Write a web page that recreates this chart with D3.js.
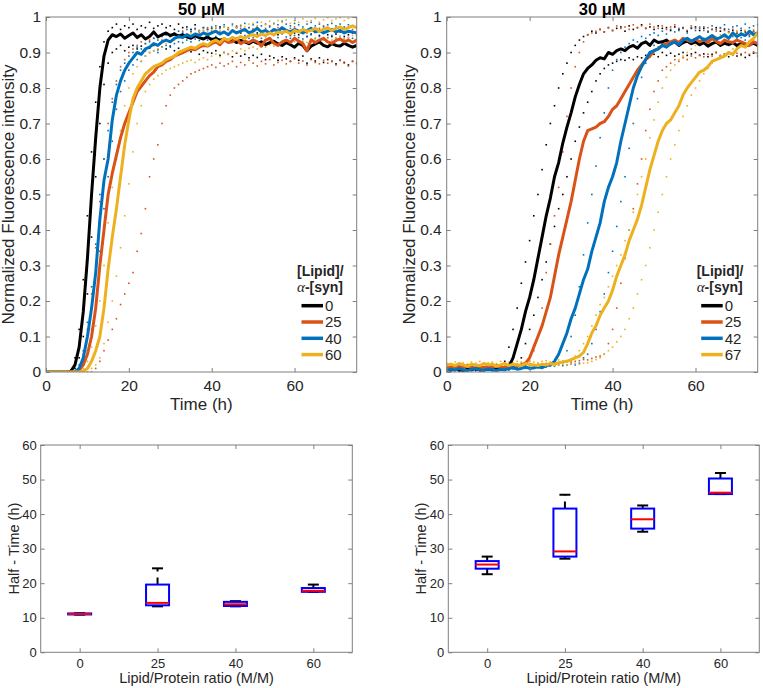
<!DOCTYPE html>
<html><head><meta charset="utf-8">
<script src="https://cdn.jsdelivr.net/npm/d3@7"></script>
<style>body{margin:0;background:#fff}</style>
</head><body>
<svg id="c" width="763" height="688" xmlns="http://www.w3.org/2000/svg"></svg>
<script>
// ---------- DATA ----------
const hours = [0,1,2,3,4,5,6,7,8,9,10,11,12,13,14,15,16,17,18,19,20,21,22,23,24,25,26,27,28,29,30,31,32,33,34,35,36,37,38,39,40,41,42,43,44,45,46,47,48,49,50,51,52,53,54,55,56,57,58,59,60,61,62,63,64,65,66,67,68,69,70,71,72,73,74,75];
const xTicksTime = [0,20,40,60];
const yTicksFluor = [0,0.1,0.2,0.3,0.4,0.5,0.6,0.7,0.8,0.9,1];
const labels50 = ["0","25","40","60"];
const labels30 = ["0","25","42","67"];

// 50 uM mean curves
const m50_0 = [0,0,0,0,0,0,0.002,0.02,0.07,0.17,
 0.32,0.5,0.66,0.8,0.89,0.935,0.95,0.945,0.952,0.94,
 0.948,0.955,0.942,0.95,0.938,0.945,0.958,0.944,0.95,0.955,
 0.948,0.952,0.946,0.95,0.944,0.94,0.947,0.942,0.938,0.944,
 0.936,0.94,0.934,0.938,0.93,0.936,0.928,0.934,0.93,0.925,
 0.932,0.926,0.93,0.922,0.928,0.932,0.924,0.92,0.928,0.922,
 0.915,0.926,0.92,0.905,0.918,0.924,0.93,0.92,0.916,0.925,
 0.92,0.918,0.926,0.92,0.915,0.92];
const m50_25 = [0,0,0,0,0,0,0,0,0.005,0.02,
 0.05,0.1,0.18,0.3,0.4,0.5,0.56,0.61,0.66,0.7,
 0.73,0.76,0.79,0.805,0.82,0.835,0.845,0.86,0.865,0.875,
 0.88,0.89,0.895,0.9,0.905,0.91,0.908,0.915,0.92,0.918,
 0.925,0.93,0.922,0.935,0.928,0.93,0.94,0.925,0.932,0.928,
 0.935,0.93,0.918,0.935,0.94,0.926,0.92,0.93,0.935,0.928,
 0.94,0.932,0.925,0.905,0.936,0.928,0.935,0.94,0.93,0.926,
 0.934,0.938,0.93,0.935,0.928,0.935];
const m50_40 = [0,0,0,0,0,0,0,0,0.01,0.04,
 0.1,0.18,0.28,0.43,0.54,0.6,0.71,0.78,0.82,0.85,
 0.87,0.885,0.9,0.895,0.91,0.915,0.925,0.92,0.93,0.935,
 0.93,0.94,0.945,0.942,0.95,0.945,0.952,0.948,0.955,0.95,
 0.955,0.96,0.952,0.958,0.95,0.962,0.955,0.96,0.965,0.955,
 0.96,0.968,0.958,0.962,0.955,0.965,0.96,0.97,0.962,0.958,
 0.965,0.96,0.955,0.962,0.968,0.958,0.962,0.955,0.96,0.965,
 0.958,0.962,0.955,0.96,0.958,0.955];
const m50_60 = [0,0,0,0,0,0,0,0,0,0.003,
 0.01,0.03,0.06,0.1,0.18,0.29,0.38,0.46,0.55,0.64,
 0.71,0.77,0.8,0.82,0.84,0.85,0.86,0.865,0.87,0.88,
 0.885,0.89,0.9,0.905,0.91,0.915,0.912,0.92,0.925,0.92,
 0.93,0.935,0.928,0.94,0.935,0.942,0.938,0.945,0.94,0.948,
 0.95,0.945,0.952,0.948,0.955,0.95,0.958,0.955,0.96,0.952,
 0.962,0.958,0.965,0.96,0.962,0.968,0.96,0.965,0.97,0.962,
 0.968,0.972,0.965,0.97,0.975,0.97];

// 50 uM replicate readings (dots)
const r50_0a = [0,0,0,0,0,0,0.005,0.04,0.12,0.26,
 0.44,0.62,0.76,0.86,0.93,0.96,0.97,0.98,0.965,0.975,
 0.97,0.98,0.965,0.975,0.97,0.985,0.968,0.975,0.98,0.97,
 0.975,0.965,0.98,0.97,0.972,0.965,0.978,0.96,0.97,0.965,
 0.968,0.96,0.972,0.958,0.965,0.96,0.97,0.955,0.962,0.958,
 0.965,0.955,0.96,0.95,0.958,0.962,0.95,0.955,0.96,0.948,
 0.955,0.95,0.958,0.945,0.952,0.96,0.948,0.955,0.95,0.945,
 0.952,0.958,0.945,0.95,0.955,0.948];
const r50_0b = [0,0,0,0,0,0,0,0.01,0.04,0.1,
 0.22,0.38,0.55,0.7,0.81,0.87,0.9,0.91,0.92,0.905,
 0.915,0.92,0.91,0.918,0.905,0.912,0.92,0.908,0.915,0.91,
 0.918,0.905,0.912,0.9,0.91,0.902,0.908,0.895,0.905,0.9,
 0.898,0.905,0.892,0.9,0.895,0.888,0.898,0.89,0.895,0.885,
 0.892,0.886,0.895,0.88,0.89,0.885,0.878,0.888,0.882,0.875,
 0.885,0.878,0.89,0.87,0.882,0.876,0.885,0.872,0.88,0.875,
 0.868,0.878,0.872,0.865,0.875,0.87];
const r50_25a = [0,0,0,0,0,0,0,0,0.01,0.05,
 0.12,0.22,0.35,0.48,0.6,0.7,0.77,0.82,0.86,0.88,
 0.9,0.91,0.92,0.93,0.925,0.935,0.94,0.945,0.935,0.95,
 0.945,0.955,0.95,0.96,0.952,0.958,0.965,0.955,0.962,0.97,
 0.96,0.968,0.958,0.972,0.965,0.96,0.975,0.968,0.962,0.97,
 0.965,0.972,0.96,0.968,0.975,0.962,0.97,0.965,0.958,0.968,
 0.972,0.96,0.966,0.955,0.97,0.962,0.968,0.975,0.96,0.965,
 0.97,0.962,0.968,0.958,0.965,0.97];
const r50_25b = [0,0,0,0,0,0,0,0,0,0,
 0,0,0.01,0.03,0.06,0.09,0.12,0.15,0.19,0.22,
 0.25,0.28,0.34,0.39,0.46,0.55,0.6,0.64,0.7,0.75,
 0.78,0.8,0.81,0.82,0.83,0.84,0.845,0.85,0.855,0.86,
 0.865,0.858,0.87,0.862,0.868,0.875,0.86,0.872,0.865,0.878,
 0.87,0.862,0.875,0.868,0.88,0.865,0.872,0.878,0.868,0.875,
 0.882,0.87,0.876,0.865,0.88,0.872,0.868,0.878,0.87,0.875,
 0.865,0.878,0.87,0.862,0.875,0.868];
const r50_40a = [0,0,0,0,0,0,0,0,0.02,0.06,
 0.14,0.24,0.36,0.5,0.6,0.68,0.76,0.81,0.85,0.87,
 0.89,0.9,0.915,0.91,0.925,0.93,0.94,0.935,0.945,0.95,
 0.945,0.955,0.96,0.955,0.965,0.96,0.968,0.962,0.97,0.965,
 0.972,0.975,0.968,0.978,0.97,0.98,0.972,0.975,0.982,0.97,
 0.978,0.985,0.975,0.98,0.972,0.982,0.978,0.988,0.98,0.975,
 0.982,0.978,0.972,0.98,0.985,0.975,0.98,0.972,0.978,0.982,
 0.975,0.98,0.972,0.978,0.975,0.97];
const r50_40b = [0,0,0,0,0,0,0,0,0,0.02,
 0.06,0.12,0.2,0.34,0.46,0.55,0.65,0.74,0.79,0.82,
 0.85,0.865,0.88,0.875,0.89,0.9,0.905,0.9,0.915,0.92,
 0.915,0.925,0.93,0.928,0.935,0.93,0.938,0.934,0.94,0.935,
 0.94,0.945,0.936,0.94,0.932,0.944,0.938,0.945,0.948,0.94,
 0.942,0.95,0.94,0.945,0.938,0.948,0.942,0.952,0.944,0.94,
 0.948,0.942,0.938,0.945,0.95,0.94,0.945,0.938,0.942,0.948,
 0.94,0.945,0.938,0.942,0.94,0.938];
const r50_60a = [0,0,0,0,0,0,0,0,0,0.01,
 0.03,0.07,0.13,0.2,0.3,0.42,0.52,0.6,0.68,0.75,
 0.8,0.84,0.86,0.875,0.89,0.9,0.905,0.91,0.915,0.925,
 0.93,0.935,0.94,0.945,0.95,0.955,0.95,0.96,0.962,0.958,
 0.965,0.97,0.962,0.972,0.968,0.975,0.97,0.978,0.972,0.98,
 0.982,0.975,0.985,0.978,0.988,0.98,0.99,0.985,0.992,0.982,
 0.99,0.985,0.995,0.988,0.99,0.996,0.985,0.992,0.998,0.99,
 0.995,0.998,0.99,0.996,1.0,0.995];
const r50_60b = [0,0,0,0,0,0,0,0,0,0,
 0,0.01,0.02,0.04,0.08,0.14,0.2,0.27,0.35,0.44,
 0.53,0.62,0.7,0.75,0.79,0.81,0.825,0.835,0.84,0.85,
 0.855,0.86,0.865,0.87,0.875,0.878,0.872,0.88,0.885,0.88,
 0.89,0.895,0.888,0.9,0.895,0.905,0.9,0.91,0.905,0.912,
 0.915,0.91,0.918,0.915,0.922,0.918,0.925,0.92,0.928,0.922,
 0.93,0.925,0.932,0.928,0.935,0.938,0.93,0.935,0.94,0.935,
 0.94,0.945,0.938,0.942,0.948,0.945];

// 30 uM mean curves
const m30_0 = [0.008,0.005,0.01,0.006,0.004,0.008,0.006,0.01,0.005,0.007,
 0.009,0.006,0.008,0.01,0.012,0.015,0.04,0.08,0.12,0.17,
 0.21,0.26,0.32,0.38,0.44,0.49,0.55,0.59,0.645,0.69,
 0.73,0.775,0.81,0.84,0.855,0.865,0.878,0.885,0.882,0.9,
 0.895,0.905,0.91,0.905,0.915,0.92,0.912,0.925,0.93,0.92,
 0.935,0.928,0.93,0.935,0.925,0.93,0.92,0.928,0.932,0.925,
 0.93,0.922,0.928,0.918,0.925,0.93,0.92,0.926,0.922,0.928,
 0.92,0.925,0.918,0.922,0.926,0.92];
const m30_25 = [0.012,0.015,0.01,0.016,0.012,0.018,0.014,0.01,0.015,0.012,
 0.016,0.013,0.018,0.014,0.012,0.016,0.015,0.018,0.02,0.025,
 0.04,0.07,0.1,0.13,0.17,0.21,0.27,0.33,0.38,0.43,
 0.48,0.54,0.6,0.65,0.68,0.685,0.69,0.7,0.705,0.72,
 0.74,0.75,0.77,0.79,0.81,0.83,0.85,0.865,0.88,0.89,
 0.905,0.91,0.92,0.925,0.93,0.935,0.928,0.94,0.935,0.93,
 0.938,0.93,0.935,0.928,0.94,0.932,0.925,0.935,0.93,0.928,
 0.935,0.93,0.925,0.92,0.93,0.925];
const m30_42 = [0.004,0.008,0.005,0.01,0.006,0.004,0.008,0.01,0.006,0.005,
 0.009,0.007,0.004,0.008,0.006,0.01,0.012,0.008,0.01,0.014,
 0.01,0.012,0.015,0.012,0.018,0.02,0.03,0.05,0.08,0.11,
 0.15,0.18,0.22,0.26,0.29,0.34,0.38,0.42,0.48,0.52,
 0.55,0.59,0.65,0.7,0.75,0.8,0.835,0.86,0.88,0.9,
 0.905,0.91,0.92,0.915,0.925,0.93,0.922,0.935,0.94,0.932,
 0.938,0.945,0.935,0.94,0.948,0.938,0.942,0.95,0.94,0.955,
 0.945,0.952,0.948,0.96,0.95,0.955];
const m30_67 = [0.02,0.022,0.018,0.024,0.02,0.016,0.022,0.02,0.018,0.024,
 0.02,0.022,0.016,0.02,0.024,0.018,0.022,0.02,0.018,0.024,
 0.022,0.02,0.018,0.022,0.02,0.024,0.022,0.026,0.028,0.03,
 0.035,0.04,0.045,0.055,0.08,0.11,0.13,0.16,0.18,0.2,
 0.23,0.27,0.3,0.33,0.37,0.4,0.43,0.47,0.52,0.57,
 0.61,0.65,0.68,0.7,0.71,0.73,0.75,0.78,0.8,0.815,
 0.83,0.845,0.85,0.86,0.875,0.88,0.885,0.89,0.9,0.895,
 0.91,0.92,0.915,0.93,0.94,0.955];

// 30 uM replicate readings (dots)
const r30_0a = [0.01,0.006,0.012,0.008,0.005,0.01,0.008,0.012,0.006,0.01,
 0.008,0.012,0.01,0.015,0.03,0.07,0.12,0.18,0.25,0.31,
 0.37,0.44,0.5,0.57,0.64,0.7,0.75,0.8,0.84,0.87,
 0.9,0.92,0.935,0.945,0.95,0.96,0.955,0.965,0.958,0.97,
 0.962,0.968,0.972,0.96,0.975,0.965,0.97,0.978,0.968,0.972,
 0.965,0.975,0.968,0.97,0.962,0.972,0.965,0.97,0.96,0.968,
 0.972,0.962,0.968,0.958,0.965,0.97,0.96,0.966,0.958,0.962,
 0.955,0.962,0.958,0.95,0.96,0.955];
const r30_0b = [0.004,0.008,0.006,0.002,0.006,0.005,0.008,0.004,0.006,0.003,
 0.006,0.004,0.007,0.005,0.008,0.01,0.012,0.02,0.04,0.08,
 0.12,0.16,0.21,0.26,0.31,0.36,0.41,0.46,0.5,0.55,
 0.6,0.65,0.69,0.73,0.76,0.79,0.82,0.84,0.855,0.865,
 0.87,0.875,0.88,0.878,0.885,0.88,0.888,0.885,0.892,0.888,
 0.895,0.888,0.9,0.892,0.898,0.89,0.895,0.9,0.892,0.896,
 0.9,0.892,0.896,0.888,0.895,0.9,0.89,0.895,0.888,0.894,
 0.89,0.895,0.886,0.892,0.898,0.89];
const r30_25a = [0.015,0.012,0.018,0.014,0.01,0.016,0.012,0.018,0.015,0.012,
 0.014,0.018,0.012,0.016,0.015,0.018,0.02,0.022,0.025,0.028,
 0.03,0.06,0.1,0.18,0.28,0.36,0.44,0.52,0.62,0.72,
 0.8,0.86,0.9,0.93,0.95,0.955,0.96,0.965,0.958,0.97,
 0.962,0.975,0.968,0.972,0.965,0.978,0.97,0.975,0.968,0.98,
 0.972,0.968,0.975,0.965,0.972,0.978,0.968,0.97,0.962,0.975,
 0.968,0.972,0.962,0.97,0.965,0.96,0.968,0.962,0.958,0.965,
 0.96,0.955,0.962,0.95,0.958,0.952];
const r30_25b = [0.012,0.016,0.014,0.018,0.015,0.012,0.016,0.014,0.018,0.015,
 0.012,0.016,0.018,0.014,0.016,0.015,0.018,0.016,0.02,0.018,
 0.02,0.018,0.022,0.02,0.024,0.022,0.025,0.024,0.026,0.028,
 0.028,0.03,0.032,0.035,0.034,0.038,0.042,0.045,0.05,0.08,
 0.12,0.18,0.25,0.32,0.4,0.46,0.53,0.6,0.68,0.74,
 0.79,0.82,0.85,0.86,0.87,0.88,0.875,0.885,0.88,0.89,
 0.885,0.892,0.888,0.895,0.89,0.9,0.892,0.896,0.9,0.894,
 0.898,0.892,0.9,0.895,0.902,0.896];
const r30_42a = [0.006,0.004,0.008,0.005,0.01,0.006,0.004,0.008,0.006,0.01,
 0.005,0.008,0.006,0.01,0.007,0.005,0.009,0.012,0.008,0.01,
 0.012,0.01,0.014,0.016,0.015,0.018,0.02,0.025,0.03,0.06,
 0.1,0.16,0.24,0.33,0.42,0.5,0.58,0.66,0.73,0.8,
 0.85,0.88,0.9,0.915,0.925,0.935,0.93,0.945,0.94,0.95,
 0.955,0.948,0.96,0.952,0.965,0.958,0.962,0.968,0.955,0.97,
 0.962,0.968,0.972,0.96,0.975,0.965,0.97,0.978,0.965,0.972,
 0.975,0.968,0.98,0.97,0.975,0.978];
const r30_42b = [0.008,0.01,0.006,0.012,0.008,0.01,0.006,0.012,0.009,0.007,
 0.01,0.008,0.012,0.006,0.01,0.008,0.012,0.01,0.014,0.012,
 0.01,0.015,0.012,0.016,0.014,0.018,0.016,0.02,0.018,0.02,
 0.022,0.02,0.025,0.04,0.05,0.08,0.12,0.17,0.22,0.28,
 0.34,0.41,0.48,0.55,0.63,0.7,0.77,0.83,0.87,0.9,
 0.92,0.915,0.925,0.93,0.922,0.935,0.928,0.93,0.938,0.932,
 0.935,0.928,0.94,0.932,0.938,0.93,0.942,0.935,0.94,0.945,
 0.938,0.942,0.935,0.945,0.94,0.948];
const r30_67a = [0.025,0.022,0.028,0.024,0.026,0.022,0.028,0.025,0.03,0.024,
 0.026,0.028,0.024,0.03,0.026,0.028,0.025,0.03,0.028,0.026,
 0.03,0.028,0.026,0.03,0.032,0.028,0.03,0.034,0.03,0.032,
 0.035,0.045,0.06,0.08,0.1,0.13,0.16,0.19,0.21,0.24,
 0.27,0.3,0.33,0.37,0.4,0.45,0.5,0.55,0.6,0.66,
 0.71,0.76,0.8,0.83,0.85,0.865,0.88,0.89,0.9,0.91,
 0.92,0.925,0.932,0.94,0.935,0.945,0.95,0.942,0.955,0.948,
 0.958,0.952,0.962,0.955,0.965,0.96];
const r30_67b = [0.015,0.018,0.014,0.016,0.018,0.015,0.014,0.018,0.016,0.015,
 0.018,0.015,0.016,0.014,0.018,0.016,0.015,0.018,0.016,0.014,
 0.016,0.018,0.015,0.018,0.016,0.02,0.018,0.02,0.022,0.02,
 0.022,0.024,0.022,0.025,0.026,0.03,0.035,0.04,0.05,0.06,
 0.07,0.085,0.1,0.12,0.15,0.18,0.22,0.26,0.3,0.35,
 0.4,0.45,0.5,0.55,0.6,0.64,0.68,0.72,0.75,0.78,
 0.8,0.82,0.84,0.855,0.87,0.88,0.89,0.895,0.9,0.91,
 0.915,0.92,0.925,0.932,0.938,0.945];

// Half-time box plots (h)
const boxCats = ["0","25","40","60"];
const yTicksHalf = [0,10,20,30,40,50,60];
const lo50  = [10.9, 13.3, 13.3, 17.5];
const q1_50 = [10.95,13.6, 13.4, 17.5];
const med50 = [11.1, 14.3, 13.9, 17.8];
const q3_50 = [11.25,19.6, 14.6, 18.6];
const hi50  = [11.3, 24.3, 14.8, 19.6];
const lo30  = [22.6, 27.1, 34.9, 45.8];
const q1_30 = [24.2, 27.7, 35.8, 45.8];
const med30 = [25.4, 29.2, 38.5, 46.2];
const q3_30 = [26.4, 41.6, 41.6, 50.3];
const hi30  = [27.7, 45.6, 42.5, 51.9];

// ---------- STYLE ----------
const colors = ["#000000","#D95319","#0072BD","#EDB120"];
const FONT = "'Liberation Sans', Arial, Helvetica, sans-serif";
const TXT = "#262626", AXC = "#7f7f7f";
const svg = d3.select("#c");

function styleAxis(sel, fs) {
  sel.attr("font-family", FONT).attr("font-size", fs);
  sel.select(".domain").remove();
  sel.selectAll(".tick line").attr("stroke", AXC);
  sel.selectAll(".tick text").attr("fill", TXT);
}

function frame(x, y, xTicks, yTicks, fs, xPad, yPad) {
  const xl = x.range();
  const [ya, yb] = y.range(); // ya bottom, yb top
  svg.append("g").attr("transform", `translate(0,${ya})`)
    .call(d3.axisBottom(x).tickValues(xTicks).tickSizeInner(-4).tickSizeOuter(0).tickPadding(xPad))
    .call(s => styleAxis(s, fs));
  svg.append("g").attr("transform", `translate(0,${yb})`)
    .call(d3.axisTop(x).tickValues(xTicks).tickSizeInner(-4).tickSizeOuter(0).tickFormat(""))
    .call(s => styleAxis(s, fs));
  svg.append("g").attr("transform", `translate(${xl[0]},0)`)
    .call(d3.axisLeft(y).tickValues(yTicks).tickSizeInner(-4).tickSizeOuter(0).tickPadding(yPad).tickFormat(d => String(d)))
    .call(s => styleAxis(s, fs));
  svg.append("g").attr("transform", `translate(${xl[1]},0)`)
    .call(d3.axisRight(y).tickValues(yTicks).tickSizeInner(-4).tickSizeOuter(0).tickFormat(""))
    .call(s => styleAxis(s, fs));
  svg.append("rect").attr("x", xl[0]).attr("y", yb).attr("width", xl[1]-xl[0]).attr("height", ya-yb)
    .attr("fill", "none").attr("stroke", AXC).attr("stroke-width", 1);
}

function kinetic(cfg) {
  const x = d3.scaleLinear().domain([0, 75]).range([cfg.left, cfg.right]);
  const y = d3.scaleLinear().domain([0, 1]).range([372, 17]);
  const clipId = "clip" + cfg.id;
  svg.append("clipPath").attr("id", clipId).append("rect")
    .attr("x", cfg.left).attr("y", 17).attr("width", cfg.right - cfg.left).attr("height", 355);
  const plot = svg.append("g").attr("clip-path", `url(#${clipId})`);
  cfg.reps.forEach((pair, si) => pair.forEach(rep => {
    plot.append("g").selectAll("rect").data(rep).join("rect")
      .attr("x", (d, i) => x(hours[i]) - 0.8).attr("y", d => y(d) - 0.8)
      .attr("width", 1.6).attr("height", 1.6).attr("fill", colors[si]);
  }));
  const line = d3.line().x((d, i) => x(hours[i])).y(d => y(d));
  cfg.means.forEach((m, si) => {
    plot.append("path").attr("d", line(m)).attr("fill", "none")
      .attr("stroke", colors[si]).attr("stroke-width", 3).attr("stroke-linejoin", "round");
  });
  frame(x, y, xTicksTime, yTicksFluor, 15.5, 7.5, 5);
  const cx = (cfg.left + cfg.right) / 2;
  svg.append("text").attr("x", cx).attr("y", 14.5).attr("text-anchor", "middle")
    .attr("font-family", FONT).attr("font-size", 16.5).attr("font-weight", "bold").attr("fill", "#000")
    .text(cfg.title);
  svg.append("text").attr("x", cx).attr("y", 410).attr("text-anchor", "middle")
    .attr("font-family", FONT).attr("font-size", 17).attr("fill", TXT).text("Time (h)");
  svg.append("text").attr("transform", `translate(${cfg.ylabX},194.5) rotate(-90)`).attr("text-anchor", "middle")
    .attr("font-family", FONT).attr("font-size", 17).attr("fill", TXT).text("Normalized Fluorescence intensity");
  // legend
  const lx = cfg.legendX;
  const lg = svg.append("g").attr("font-family", FONT).attr("fill", TXT);
  lg.append("text").attr("x", lx).attr("y", 276).attr("font-size", 14).attr("font-weight", "bold").text("[Lipid]/");
  const t2 = lg.append("text").attr("x", lx).attr("y", 292).attr("font-size", 14);
  t2.append("tspan").attr("font-family", "'Liberation Serif','DejaVu Serif',serif").attr("font-style", "italic").attr("font-size", 15).text("α");
  t2.append("tspan").attr("font-weight", "bold").text("-[syn]");
  cfg.labels.forEach((lab, i) => {
    const yy = 305.7 + i * 16.3;
    lg.append("line").attr("x1", lx + 4.5).attr("x2", lx + 26).attr("y1", yy).attr("y2", yy)
      .attr("stroke", colors[i]).attr("stroke-width", 3.5);
    lg.append("text").attr("x", lx + 28).attr("y", yy + 5.3).attr("font-size", 15).text(lab);
  });
}

function boxes(cfg) {
  const x = d3.scalePoint().domain(boxCats).range([cfg.left, cfg.right]).padding(0.5);
  const y = d3.scaleLinear().domain([0, 60]).range([652.3, 445]);
  frame(x, y, boxCats, yTicksHalf, 13, 6.5, 4);
  const g = svg.append("g");
  boxCats.forEach((c, i) => {
    const cx = x(c), bw = 23, cw = 11;
    [[cfg.q3[i], cfg.hi[i]], [cfg.q1[i], cfg.lo[i]]].forEach(([a, b]) => {
      if (Math.abs(a - b) > 0.01)
        g.append("line").attr("x1", cx).attr("x2", cx).attr("y1", y(a)).attr("y2", y(b))
          .attr("stroke", "#000").attr("stroke-width", 2).attr("stroke-dasharray", "7,6");
      g.append("line").attr("x1", cx - cw/2).attr("x2", cx + cw/2).attr("y1", y(b)).attr("y2", y(b))
        .attr("stroke", "#000").attr("stroke-width", 2);
    });
    g.append("rect").attr("x", cx - bw/2).attr("width", bw)
      .attr("y", y(cfg.q3[i])).attr("height", Math.max(0.5, y(cfg.q1[i]) - y(cfg.q3[i])))
      .attr("fill", "none").attr("stroke", "#0000FF").attr("stroke-width", 2);
    g.append("line").attr("x1", cx - bw/2).attr("x2", cx + bw/2).attr("y1", y(cfg.med[i])).attr("y2", y(cfg.med[i]))
      .attr("stroke", "#FF0000").attr("stroke-width", 2);
  });
  const cx = (cfg.left + cfg.right) / 2;
  svg.append("text").attr("x", cx).attr("y", 683).attr("text-anchor", "middle")
    .attr("font-family", FONT).attr("font-size", 14.5).attr("fill", TXT).text("Lipid/Protein ratio (M/M)");
  svg.append("text").attr("transform", `translate(${cfg.ylabX},548.6) rotate(-90)`).attr("text-anchor", "middle")
    .attr("font-family", FONT).attr("font-size", 14.5).attr("fill", TXT).text("Half - Time (h)");
}

kinetic({id: "a", left: 46, right: 356.7, title: "50 μM", ylabX: 14, legendX: 297,
  means: [m50_0, m50_25, m50_40, m50_60],
  reps: [[r50_0a, r50_0b], [r50_25a, r50_25b], [r50_40a, r50_40b], [r50_60a, r50_60b]],
  labels: labels50});
kinetic({id: "b", left: 446.7, right: 757.7, title: "30 μM", ylabX: 415, legendX: 696.7,
  means: [m30_0, m30_25, m30_42, m30_67],
  reps: [[r30_0a, r30_0b], [r30_25a, r30_25b], [r30_42a, r30_42b], [r30_67a, r30_67b]],
  labels: labels30});
boxes({left: 40.7, right: 352.3, ylabX: 19, lo: lo50, q1: q1_50, med: med50, q3: q3_50, hi: hi50});
boxes({left: 448.3, right: 759.3, ylabX: 426, lo: lo30, q1: q1_30, med: med30, q3: q3_30, hi: hi30});
</script>
</body></html>
